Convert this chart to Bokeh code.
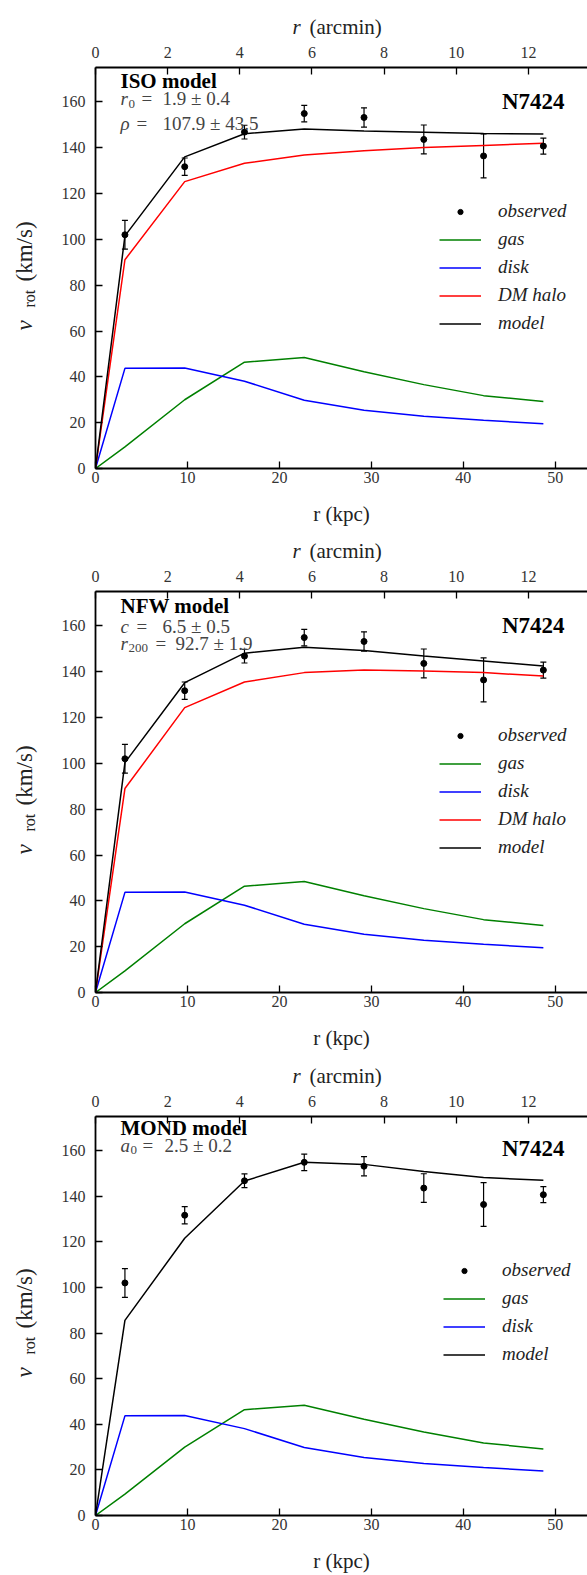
from bokeh.plotting import figure
from bokeh.models import (Range1d, LinearAxis, FixedTicker, Legend, LegendItem,
                          Label, Whisker, ColumnDataSource, TeeHead)
from bokeh.layouts import column, row
from bokeh.embed import file_html
from bokeh.resources import INLINE

# ---------------- data ----------------
R_KPC = [3.2, 9.7, 16.2, 22.7, 29.2, 35.7, 42.2, 48.7]
V_OBS = [102.0, 131.7, 146.8, 154.9, 153.2, 143.6, 136.4, 140.7]
V_ERR = [6.3, 3.8, 3.0, 3.6, 4.2, 6.3, 9.6, 3.5]

R_MODEL = [0.0, 3.2, 9.7, 16.2, 22.7, 29.2, 35.7, 42.2, 48.7]
V_GAS = [0.0, 9.4, 30.0, 46.4, 48.4, 42.2, 36.6, 31.8, 29.2]
V_DISK = [0.0, 43.7, 43.9, 38.1, 29.8, 25.4, 22.8, 21.1, 19.5]
ISO_HALO = [0.0, 91.1, 125.2, 133.2, 136.8, 138.7, 140.1, 141.0, 141.9]
ISO_MODEL = [0.0, 101.5, 136.0, 146.1, 148.2, 147.3, 146.7, 146.2, 146.0]
NFW_HALO = [0.0, 89.0, 124.3, 135.5, 139.6, 140.7, 140.3, 139.6, 138.1]
NFW_MODEL = [0.0, 100.3, 135.2, 148.1, 150.7, 149.2, 146.8, 144.7, 142.5]
MOND_MODEL = [0.0, 85.6, 121.6, 146.7, 154.9, 154.0, 150.9, 148.2, 147.0]

X_TICKS = [0, 10, 20, 30, 40, 50]
Y_TICKS = [0, 20, 40, 60, 80, 100, 120, 140, 160]
ARCMIN_TICKS = [0, 2, 4, 6, 8, 10, 12]
KPC_PER_ARCMIN = 3.923
X_MAX = 53.5
Y_MAX = 175

GALAXY = "N7424"
ISO_PARAMS = [("r", "0", "1.9 ± 0.4"), ("ρ", "", "107.9 ± 43.5")]
NFW_PARAMS = [("c", "", "6.5 ± 0.5"), ("r", "200", "92.7 ± 1.9")]
MOND_PARAMS = [("a", "0", "2.5 ± 0.2")]

# ---------------- style ----------------
FONT = "Liberation Serif"
LEFT = 94          # frame left edge in the page
YLAB_W = 58        # width of the strip holding the y label
FRAME_H = 401
TOP_B = 29         # border above each frame (top tick labels)
PARAM_COLOR = "#444444"
LABEL_COLOR = "#222222"


def add_label(p, x, y, text, size, style="normal", color="black",
              align="left", baseline="middle", angle=0):
    p.add_layout(Label(x=x, y=y, x_units="screen", y_units="screen", text=text,
                       text_font=FONT, text_font_size=f"{size}px",
                       text_font_style=style, text_color=color,
                       text_align=align, text_baseline=baseline,
                       angle=angle, angle_units="deg"))


def blank(width, height):
    f = figure(width=width, height=height, x_range=Range1d(0, width),
               y_range=Range1d(0, height), output_backend="svg",
               toolbar_location=None, min_border=0,
               x_axis_type=None, y_axis_type=None)
    f.grid.visible = False
    f.outline_line_color = None
    return f


def make_header(height):
    h = blank(587, height)
    add_label(h, 292, 12, "r", 21, style="italic", color=LABEL_COLOR)
    add_label(h, 309, 12, "(arcmin)", 21, color=LABEL_COLOR)
    return h


def make_ylabel(height):
    # this strip's frame is aligned with the main frame by the row layout
    f = blank(YLAB_W, height)
    add_label(f, 24, 138, "v", 23, style="italic", color=LABEL_COLOR, angle=90)
    add_label(f, 29, 161, "rot", 16, color=LABEL_COLOR, angle=90)
    add_label(f, 24, 187, "(km/s)", 23, color=LABEL_COLOR, angle=90)
    return f


def make_main(halo, model, title, params, param_layout, title_y, n_y,
              legend_loc, bottom):
    H = FRAME_H
    p = figure(width=587 - YLAB_W, height=TOP_B + H + bottom,
               x_range=Range1d(0, X_MAX), y_range=Range1d(0, Y_MAX),
               output_backend="svg", toolbar_location=None,
               min_border_left=LEFT - YLAB_W, min_border_right=0,
               min_border_top=TOP_B, min_border_bottom=bottom)
    p.grid.visible = False
    p.outline_line_color = None
    bx = p.below[0]
    ly = p.left[0]
    p.extra_x_ranges = {"arcmin": Range1d(0, X_MAX / KPC_PER_ARCMIN)}
    top_ax = LinearAxis(x_range_name="arcmin")
    p.add_layout(top_ax, "above")

    for ax, ticks in ((bx, X_TICKS), (ly, Y_TICKS), (top_ax, ARCMIN_TICKS)):
        ax.ticker = FixedTicker(ticks=ticks)
        ax.axis_line_width = 1.8
        ax.axis_line_color = "black"
        ax.major_tick_in = 7
        ax.major_tick_out = 0
        ax.major_tick_line_width = 1.3
        ax.major_tick_line_color = "black"
        ax.minor_tick_line_color = None
        ax.major_label_text_font = FONT
        ax.major_label_text_font_size = "16px"
        ax.major_label_text_color = "#333333"
    bx.major_label_standoff = 3
    bx.axis_label = "r (kpc)"
    bx.axis_label_text_font = FONT
    bx.axis_label_text_font_size = "21px"
    bx.axis_label_text_font_style = "normal"
    bx.axis_label_text_color = LABEL_COLOR
    bx.axis_label_standoff = 16
    ly.major_label_standoff = 10
    top_ax.major_label_standoff = 10

    # curves
    r_gas = p.line(R_MODEL, V_GAS, line_color="#008000", line_width=1.5)
    r_disk = p.line(R_MODEL, V_DISK, line_color="#0000ff", line_width=1.5)
    r_halo = None
    if halo is not None:
        r_halo = p.line(R_MODEL, halo, line_color="#ff0000", line_width=1.5)
    r_model = p.line(R_MODEL, model, line_color="black", line_width=1.5)

    src = ColumnDataSource(dict(r=R_KPC, v=V_OBS,
                                lo=[v - e for v, e in zip(V_OBS, V_ERR)],
                                hi=[v + e for v, e in zip(V_OBS, V_ERR)]))
    p.add_layout(Whisker(source=src, base="r", lower="lo", upper="hi",
                         dimension="height", line_color="black", line_width=1.2,
                         upper_head=TeeHead(size=6, line_color="black", line_width=1.2),
                         lower_head=TeeHead(size=6, line_color="black", line_width=1.2)))
    r_obs = p.scatter("r", "v", source=src, size=6, marker="circle",
                      fill_color="black", line_color="black")

    items = [LegendItem(label="observed", renderers=[r_obs]),
             LegendItem(label="gas", renderers=[r_gas]),
             LegendItem(label="disk", renderers=[r_disk])]
    if r_halo is not None:
        items.append(LegendItem(label="DM halo", renderers=[r_halo]))
    items.append(LegendItem(label="model", renderers=[r_model]))
    leg = Legend(items=items, location=legend_loc, padding=0, margin=0,
                 spacing=6, glyph_width=42, glyph_height=13, label_height=20,
                 label_standoff=17, border_line_color=None,
                 background_fill_alpha=0, label_text_font=FONT,
                 label_text_font_size="19px", label_text_font_style="italic",
                 label_text_color=LABEL_COLOR)
    p.add_layout(leg)

    # texts inside the frame
    add_label(p, 119 - LEFT, H - title_y, title, 21, style="bold")
    add_label(p, 563 - LEFT, H - n_y, GALAXY, 23, style="bold", align="right")
    for (var, sub, num), (yy, var_x, sub_x, eq_x, num_x) in zip(params, param_layout):
        add_label(p, var_x - LEFT, H - yy, var, 19, style="italic", color=PARAM_COLOR)
        if sub:
            add_label(p, sub_x - LEFT, H - yy - 5, sub, 13, color=PARAM_COLOR)
        add_label(p, eq_x - LEFT, H - yy, "=", 19, color=PARAM_COLOR)
        add_label(p, num_x - LEFT, H - yy, num, 19, color=PARAM_COLOR)
    return p


def make_panel(header_h, bottom, main_args):
    main = make_main(*main_args, bottom=bottom)
    ylab = make_ylabel(TOP_B + FRAME_H + bottom)
    return column(make_header(header_h), row(ylab, main, spacing=0), spacing=0)


panel1 = make_panel(38, 62, (ISO_HALO, ISO_MODEL, "ISO model", ISO_PARAMS,
                             [(31.3, 119, 127, 140, 161), (55.8, 119, 0, 135, 161)],
                             13.3, 34.3, (344, 134)))
panel2 = make_panel(32, 62, (NFW_HALO, NFW_MODEL, "NFW model", NFW_PARAMS,
                             [(35.0, 119, 0, 135, 161), (51.5, 119, 127, 154, 174)],
                             14.0, 34.0, (344, 134)))
panel3 = make_panel(33, 58, (None, MOND_MODEL, "MOND model", MOND_PARAMS,
                             [(30.7, 119, 129, 141, 163)],
                             13.7, 33.7, (348, 150)))

layout = column(panel1, panel2, panel3, spacing=0)
open("out.html", "w").write(file_html(layout, INLINE, title="N7424"))
